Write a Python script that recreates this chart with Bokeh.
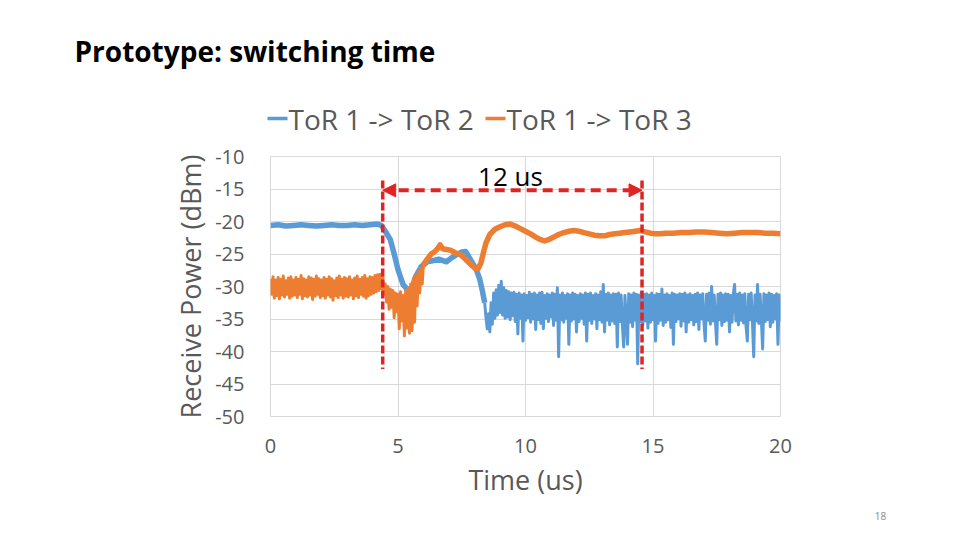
import numpy as np
from bokeh.plotting import figure
from bokeh.layouts import column
from bokeh.models import Range1d, FixedTicker, Arrow, NormalHead
from bokeh.core.properties import value
from bokeh.embed import file_html
from bokeh.resources import INLINE

# ---------------------------------------------------------------- data
# ToR 1 -> ToR 2 : steady part and transition (time in us, power in dBm)
blue_smooth_t = [0.0, 0.3, 0.6, 0.9, 1.2, 1.5, 1.8, 2.1, 2.4, 2.7, 3.0, 3.3,
                 3.6, 3.9, 4.2, 4.35, 4.5, 4.7, 4.85, 5.0, 5.2, 5.4, 5.55,
                 5.7, 5.9, 6.15, 6.4, 6.6, 6.9, 7.1, 7.3, 7.5, 7.65, 7.85,
                 8.05, 8.2, 8.3, 8.4]
blue_smooth_db = [-20.6, -20.5, -20.7, -20.6, -20.5, -20.6, -20.7, -20.6,
                  -20.5, -20.6, -20.6, -20.5, -20.6, -20.5, -20.4, -20.6,
                  -21.5, -22.8, -25.0, -27.4, -29.7, -30.6, -30.2, -28.4,
                  -27.0, -26.2, -26.0, -25.8, -26.2, -25.6, -25.1, -24.7,
                  -24.6, -25.9, -27.2, -28.8, -30.5, -32.5]

# ToR 1 -> ToR 2 : noisy tail, sampled every 0.05 us from 8.40 us
blue_tail_start, blue_tail_step = 8.40, 0.05
blue_tail_db = [
    -32.5,
    -34.8, -36.5, -34.2, -37.0, -32.5, -35.8, -31.0, -34.9, -30.5, -34.4,
    -29.8, -34.0, -29.2, -34.4, -30.2, -34.9, -30.6, -34.7, -30.8, -35.1,
    -31.0, -34.5, -30.9, -35.4, -31.2, -37.3, -31.0, -34.9, -31.3, -38.4,
    -31.1, -35.2, -31.4, -34.8, -30.9, -35.5, -31.2, -35.0, -31.0, -36.6,
    -31.3, -35.1, -31.0, -35.7, -30.9, -36.5, -31.4, -34.9, -31.1, -35.4,
    -31.3, -34.7, -31.0, -36.0, -31.2, -35.2, -30.2, -40.8, -31.3, -35.1,
    -31.0, -35.5, -31.4, -34.9, -31.1, -38.9, -31.3, -35.3, -31.0, -35.0,
    -31.2, -37.0, -31.4, -35.4, -31.1, -34.9, -31.3, -35.8, -31.0, -38.4,
    -31.2, -35.2, -31.0, -35.7, -31.4, -35.0, -31.1, -36.5, -31.3, -35.1,
    -30.8, -35.5, -29.7, -37.0, -31.2, -35.2, -31.0, -35.9, -31.3, -35.3,
    -31.1, -35.7, -31.2, -39.3, -31.0, -35.4, -31.3, -36.0, -39.3, -31.4,
    -35.1, -38.9, -31.1, -35.5, -31.3, -36.2, -31.0, -35.2, -31.2, -41.9,
    -31.3, -35.4, -30.9, -35.9, -31.2, -35.3, -31.1, -36.4, -31.3, -35.5,
    -31.0, -35.1, -31.4, -38.4, -31.1, -35.7, -31.2, -35.2, -30.4, -36.0,
    -31.3, -35.5, -31.1, -35.1, -31.4, -36.3, -31.0, -38.9, -31.2, -35.4,
    -31.3, -35.0, -31.1, -36.1, -31.2, -35.3, -31.0, -37.0, -31.3, -35.5,
    -31.1, -35.1, -31.4, -35.9, -31.2, -35.4, -31.0, -36.6, -31.3, -35.0,
    -31.1, -35.6, -38.4, -31.2, -35.2, -31.0, -35.8, -30.0, -35.3, -31.3,
    -35.5, -38.9, -31.2, -35.1, -31.0, -36.0, -31.3, -35.4, -31.1, -35.2,
    -31.2, -37.0, -31.4, -35.5, -31.1, -29.7, -35.3, -31.2, -35.9, -31.0,
    -35.2, -31.3, -35.6, -31.1, -36.2, -38.4, -31.2, -35.1, -31.0, -35.5,
    -40.8, -31.3, -35.3, -29.7, -35.7, -31.2, -35.2, -39.6, -31.1, -35.4,
    -31.3, -35.1, -31.0, -36.2, -31.2, -35.5, -31.4, -35.0, -31.1, -38.9,
    -31.3, -35.4,
]

# ToR 1 -> ToR 3 : noisy start, sampled every 0.05 us from 0 us
orange_head_start, orange_head_step = 0.0, 0.05
orange_head_db = [
    -28.8, -31.2, -28.5, -31.8, -29.0, -31.4, -28.6, -31.9, -28.9, -31.3,
    -28.4, -31.6, -29.1, -31.2, -28.7, -31.8, -28.5, -31.5, -29.0, -31.3,
    -28.6, -31.7, -28.9, -31.2, -28.3, -31.9, -28.8, -31.4, -29.0, -31.6,
    -28.5, -31.3, -28.7, -32.0, -28.9, -31.5, -28.4, -31.2, -28.8, -31.7,
    -29.0, -31.4, -28.6, -31.8, -28.9, -31.3, -28.5, -31.6, -28.8, -32.1,
    -29.1, -31.4, -28.7, -31.7, -28.4, -31.3, -28.9, -31.8, -28.6, -31.5,
    -28.8, -31.6, -28.5, -31.3, -29.0, -31.9, -28.7, -31.4, -28.4, -31.7,
    -28.9, -31.2, -28.6, -31.5, -28.3, -31.8, -28.8, -31.4, -28.5, -31.2,
    -28.6, -31.0, -28.3, -30.8, -28.2, -30.6, -28.1, -30.3, -28.4, -31.2,
    -29.6, -32.4, -30.0, -33.5, -30.4, -33.2, -30.6, -34.8, -31.0, -33.9,
    -31.2, -36.5, -30.8, -35.3, -31.4, -37.6, -30.6, -36.4, -30.2, -37.2,
    -29.6, -36.8, -28.8, -35.5, -28.2, -33.0, -27.6, -31.0, -27.2, -29.6,
    -26.5,
]

# ToR 1 -> ToR 3 : settling part
orange_smooth_t = [6.0, 6.15, 6.3, 6.45, 6.55, 6.65, 6.75, 6.9, 7.05, 7.25,
                   7.45, 7.65, 7.85, 8.05, 8.15, 8.25, 8.35, 8.45, 8.6, 8.8,
                   9.0, 9.2, 9.4, 9.6, 9.8, 10.0, 10.2, 10.4, 10.6, 10.75,
                   10.9, 11.1, 11.3, 11.5, 11.7, 11.9, 12.1, 12.3, 12.5,
                   12.7, 12.9, 13.1, 13.3, 13.5, 13.7, 13.9, 14.1, 14.3,
                   14.5, 14.7, 14.9, 15.1, 15.3, 15.5, 15.8, 16.1, 16.4,
                   16.7, 17.0, 17.3, 17.6, 17.9, 18.2, 18.5, 18.8, 19.1,
                   19.4, 19.7, 20.0]
orange_smooth_db = [-26.6, -25.8, -25.0, -24.6, -24.2, -23.6, -24.2, -24.3,
                    -24.4, -24.8, -25.1, -25.8, -26.6, -27.3, -27.2, -26.4,
                    -24.8, -23.3, -22.0, -21.2, -20.8, -20.5, -20.4, -20.7,
                    -21.1, -21.5, -21.9, -22.4, -22.8, -23.0, -22.8, -22.4,
                    -22.0, -21.7, -21.5, -21.4, -21.5, -21.7, -21.9, -22.1,
                    -22.2, -22.2, -22.0, -21.9, -21.8, -21.7, -21.6, -21.5,
                    -21.4, -21.6, -21.8, -21.9, -21.9, -21.8, -21.8, -21.7,
                    -21.7, -21.6, -21.6, -21.7, -21.8, -21.9, -21.8, -21.7,
                    -21.7, -21.7, -21.8, -21.8, -21.9]

series_names = ["ToR 1 -> ToR 2", "ToR 1 -> ToR 3"]
x_ticks = [0, 5, 10, 15, 20]
y_ticks = [-50, -45, -40, -35, -30, -25, -20, -15, -10]
y_tick_labels = {t: "%d" % t for t in y_ticks}  # plain hyphen minus

# switching window markers
window_t = [4.4, 14.57]
window_top, window_bottom = -13.7, -42.7
window_arrow_db = -15.2
window_text = "12 us"
window_text_pos = (9.41, -13.0)

slide_title = "Prototype: switching time"
slide_number = "18"

# ---------------------------------------------------------------- styling
BLUE = "#5b9bd5"
ORANGE = "#ed7d31"
RED = "#e02424"
GREY_TXT = "#595959"
GRID = "#d9d9d9"
FONT = "Open Sans"
W = 960
HEAD_H = 136      # header strip height (page px)
FRAME_TOP = 156   # top of the plotting area (page px)
CHART_BOTTOM = 500


def strip(height, y_top, y_bottom):
    """A bare strip in page pixels, used for the slide texts."""
    return figure(width=W, height=height, output_backend="svg",
                  toolbar_location=None, x_range=Range1d(0, W),
                  y_range=Range1d(y_bottom, y_top), x_axis_type=None,
                  y_axis_type=None, min_border=0, outline_line_color=None,
                  frame_align=False,
                  background_fill_color="white", border_fill_color="white")


# ---------------------------------------------------------------- header: title + legend
head = strip(HEAD_H, 0, HEAD_H)
head.text(x=[74], y=[50], text=[slide_title], text_baseline="middle",
          text_font=value(FONT), text_font_style="bold",
          text_font_size="28px", text_color="black")

legend_x = [267, 485]
legend_y = 118
legend_colors = [BLUE, ORANGE]
head.segment(x0=legend_x, y0=[legend_y] * 2, x1=[x + 20 for x in legend_x],
             y1=[legend_y] * 2, color=legend_colors, line_width=3.5)
head.text(x=[x + 21 for x in legend_x], y=[legend_y] * 2, text=series_names,
          text_baseline="middle", text_font=value(FONT),
          text_font_size="28px", text_color=GREY_TXT)

# ---------------------------------------------------------------- chart
p = figure(width=W, height=CHART_BOTTOM - HEAD_H, output_backend="svg",
           toolbar_location=None, frame_align=False,
           x_range=Range1d(0, 20), y_range=Range1d(-50, -10),
           min_border_left=270, min_border_right=180,
           min_border_top=FRAME_TOP - HEAD_H, min_border_bottom=82,
           background_fill_color="white", border_fill_color="white")
p.outline_line_color = GRID

p.xgrid.ticker = FixedTicker(ticks=x_ticks)
p.ygrid.ticker = FixedTicker(ticks=y_ticks)
p.grid.grid_line_color = GRID
p.grid.grid_line_width = 1

p.xaxis.ticker = FixedTicker(ticks=x_ticks)
p.yaxis.ticker = FixedTicker(ticks=y_ticks)
p.yaxis.major_label_overrides = y_tick_labels
for ax in (p.xaxis, p.yaxis):
    ax.axis_line_color = None
    ax.major_tick_line_color = None
    ax.minor_tick_line_color = None
    ax.major_label_text_font = FONT
    ax.major_label_text_font_size = "20px"
    ax.major_label_text_color = GREY_TXT
    ax.axis_label_text_font = FONT
    ax.axis_label_text_font_size = "27px"
    ax.axis_label_text_font_style = "normal"
    ax.axis_label_text_color = GREY_TXT
p.xaxis.axis_label = "Time (us)"
p.yaxis.axis_label = "Receive Power (dBm)"
p.xaxis.major_label_standoff = 16
p.yaxis.major_label_standoff = 20
p.xaxis.axis_label_standoff = 5
p.yaxis.axis_label_standoff = 3

blue_tail_t = blue_tail_start + blue_tail_step * np.arange(len(blue_tail_db))
orange_head_t = orange_head_start + orange_head_step * np.arange(len(orange_head_db))

p.line(blue_smooth_t, blue_smooth_db, color=BLUE, line_width=5.5,
       line_join="round")
p.line(blue_tail_t, blue_tail_db, color=BLUE, line_width=3,
       line_join="round")
p.line(orange_head_t, orange_head_db, color=ORANGE, line_width=3,
       line_join="round")
p.line(orange_smooth_t, orange_smooth_db, color=ORANGE, line_width=5.5,
       line_join="round")

# switching window
p.segment(x0=window_t, y0=[window_top] * 2, x1=window_t, y1=[window_bottom] * 2,
          color=RED, line_width=3.5, line_dash="8 3")
p.add_layout(Arrow(x_start=window_t[0], y_start=window_arrow_db,
                   x_end=window_t[1], y_end=window_arrow_db,
                   line_color=RED, line_width=4, line_dash="10 6",
                   start=NormalHead(size=13, fill_color=RED, line_color=RED,
                                    line_width=1),
                   end=NormalHead(size=13, fill_color=RED, line_color=RED,
                                  line_width=1)))
p.text(x=[window_text_pos[0]], y=[window_text_pos[1]], text=[window_text],
       text_align="center", text_baseline="middle",
       text_font=value(FONT), text_font_size="26px", text_color="black")

# ---------------------------------------------------------------- footer: slide number
foot = strip(540 - CHART_BOTTOM, CHART_BOTTOM, 540)
foot.text(x=[880], y=[515], text=[slide_number], text_align="center",
          text_baseline="middle", text_font=value(FONT),
          text_font_size="10px", text_color="#898989")

page = column(head, p, foot, spacing=0)
open("out.html", "w").write(file_html(page, INLINE))
